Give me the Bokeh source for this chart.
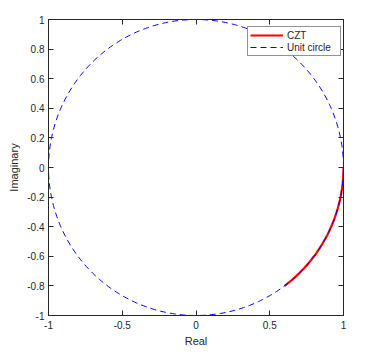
import numpy as np
from bokeh.plotting import figure
from bokeh.models import Range1d, LinearAxis, FixedTicker, Legend, LegendItem
from bokeh.embed import file_html
from bokeh.resources import INLINE

# ---- data ----
x_ticks = [-1, -0.5, 0, 0.5, 1]
x_tick_labels = ["-1", "-0.5", "0", "0.5", "1"]
y_ticks = [-1, -0.8, -0.6, -0.4, -0.2, 0, 0.2, 0.4, 0.6, 0.8, 1]
y_tick_labels = ["-1", "-0.8", "-0.6", "-0.4", "-0.2", "0", "0.2", "0.4", "0.6", "0.8", "1"]

# CZT contour: arc on the unit circle from angle 0 to the point (0.6, -0.8)
czt_start_angle = 0.0
czt_end_point = (0.6, -0.8)
czt_n_points = 64
czt_theta = np.linspace(czt_start_angle, np.arctan2(czt_end_point[1], czt_end_point[0]), czt_n_points)
czt_x = np.cos(czt_theta)
czt_y = np.sin(czt_theta)

# Unit circle
circle_theta = np.linspace(0, 2 * np.pi, 400)
circle_x = np.cos(circle_theta)
circle_y = np.sin(circle_theta)

FONT = "Liberation Sans"
AX = "#262626"

p = figure(frame_width=295, frame_height=296, output_backend="svg", toolbar_location=None,
           x_range=Range1d(-1, 1), y_range=Range1d(-1, 1),
           min_border_left=48, min_border_top=19, min_border_right=20, min_border_bottom=30)
p.background_fill_color = "white"
p.border_fill_color = "white"
p.outline_line_color = AX
p.outline_line_width = 1
p.xgrid.visible = False
p.ygrid.visible = False

r_czt = p.line(czt_x, czt_y, line_color="#ff0000", line_width=2.2)
r_uc = p.line(circle_x, circle_y, line_color="#0000ff", line_width=1, line_dash="6 4")

def style(ax, ticks, labels, show_labels=True):
    ax.ticker = FixedTicker(ticks=ticks)
    ax.major_label_overrides = {t: l for t, l in zip(ticks, labels)} if show_labels else {t: "" for t in ticks}
    ax.major_tick_in = 5
    ax.major_tick_out = 0
    ax.minor_tick_in = 0
    ax.minor_tick_out = 0
    ax.axis_line_color = AX
    ax.major_tick_line_color = AX
    ax.major_label_text_font = FONT
    ax.major_label_text_font_size = "10px" if show_labels else "0px"
    ax.major_label_text_color = AX
    ax.axis_label_text_font = FONT
    ax.axis_label_text_font_size = "11px"
    ax.axis_label_text_font_style = "normal"
    ax.axis_label_text_color = AX

style(p.xaxis[0], x_ticks, x_tick_labels)
style(p.yaxis[0], y_ticks, y_tick_labels)
p.xaxis[0].axis_label = "Real"
p.yaxis[0].axis_label = "Imaginary"
p.xaxis[0].major_label_standoff = 5
p.xaxis[0].axis_label_standoff = 3
p.yaxis[0].major_label_standoff = 4
p.yaxis[0].axis_label_standoff = 4

top = LinearAxis()
style(top, x_ticks, x_tick_labels, show_labels=False)
p.add_layout(top, "above")
right = LinearAxis()
style(right, y_ticks, y_tick_labels, show_labels=False)
p.add_layout(right, "right")

legend = Legend(items=[LegendItem(label="CZT", renderers=[r_czt]),
                       LegendItem(label="Unit circle", renderers=[r_uc])],
                location=(199, 259))
legend.margin = 0
legend.padding = 2
legend.spacing = 0
legend.glyph_width = 33
legend.glyph_height = 12
legend.label_height = 12
legend.label_width = 51
legend.label_standoff = 4
legend.label_text_font = FONT
legend.label_text_font_size = "10px"
legend.label_text_color = AX
legend.border_line_color = AX
legend.border_line_width = 1
legend.background_fill_color = "white"
legend.background_fill_alpha = 1
p.add_layout(legend, "center")

open("out.html", "w").write(file_html(p, INLINE))
